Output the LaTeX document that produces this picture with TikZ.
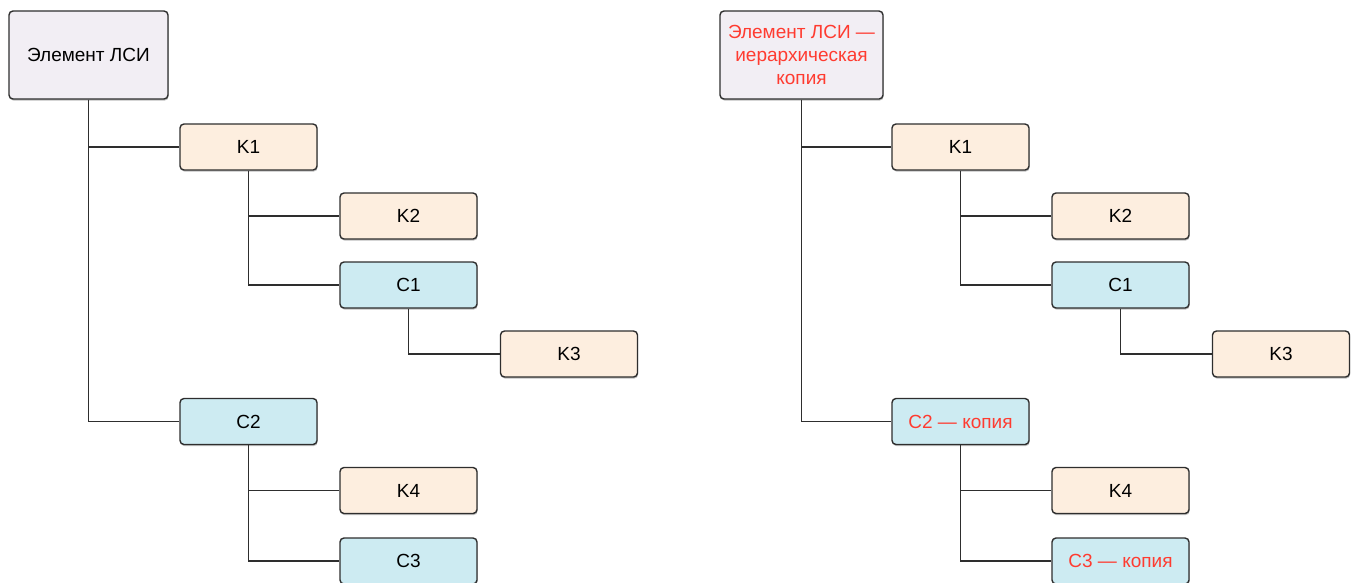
\documentclass[tikz,border=0pt]{standalone}
\usepackage{fontspec}
\setmainfont{Liberation Sans}
\usetikzlibrary{shadows}
\definecolor{rootfill}{HTML}{F2EEF4}
\definecolor{kfill}{HTML}{FDEEDF}
\definecolor{cfill}{HTML}{CDEBF2}
\definecolor{edge}{HTML}{2E2E2E}
\definecolor{redtext}{HTML}{FF3B30}
\tikzset{
  box/.style={draw=edge, line width=1.4pt, rounded corners=4pt, align=center,
    font=\fontsize{19}{23}\selectfont, text=black, inner sep=2pt,
    drop shadow={shadow xshift=0.6pt, shadow yshift=-1.6pt, opacity=0.25, fill=black}},
  rootbox/.style={box, fill=rootfill, minimum height=88pt},
  kbox/.style={box, fill=kfill, minimum width=137pt, minimum height=46pt},
  cbox/.style={box, fill=cfill, minimum width=137pt, minimum height=46pt},
  link/.style={draw=edge, line width=1.4pt},
  copytext/.style={text=redtext}
}
\begin{document}
\begin{tikzpicture}[x=1pt, y=-1pt]
\useasboundingbox (0,0) rectangle (1359,582);
% Left tree
\node[rootbox, minimum width=159pt] (Lroot) at (88.5,55) {Элемент ЛСИ};
\node[kbox] (LK1) at (248.5,147) {K1};
\node[kbox] (LK2) at (408.5,216) {K2};
\node[cbox] (LC1) at (408.5,285) {C1};
\node[kbox] (LK3) at (569,354) {K3};
\node[cbox] (LC2) at (248.5,421.5) {C2};
\node[kbox] (LK4) at (408.5,490.5) {K4};
\node[cbox] (LC3) at (408.5,561) {C3};
\draw[link] (Lroot.south) |- (LK1.west);
\draw[link] (Lroot.south) |- (LC2.west);
\draw[link] (LK1.south) |- (LK2.west);
\draw[link] (LK1.south) |- (LC1.west);
\draw[link] (LC1.south) |- (LK3.west);
\draw[link] (LC2.south) |- (LK4.west);
\draw[link] (LC2.south) |- (LC3.west);
% Right tree
\node[rootbox, minimum width=163pt, copytext] (Rroot) at (801.5,55) {Элемент ЛСИ —\\иерархическая\\копия};
\node[kbox] (RK1) at (960.5,147) {K1};
\node[kbox] (RK2) at (1120.5,216) {K2};
\node[cbox] (RC1) at (1120.5,285) {C1};
\node[kbox] (RK3) at (1281,354) {K3};
\node[cbox, copytext] (RC2) at (960.5,421.5) {C2 — копия};
\node[kbox] (RK4) at (1120.5,490.5) {K4};
\node[cbox, copytext] (RC3) at (1120.5,561) {C3 — копия};
\draw[link] (Rroot.south) |- (RK1.west);
\draw[link] (Rroot.south) |- (RC2.west);
\draw[link] (RK1.south) |- (RK2.west);
\draw[link] (RK1.south) |- (RC1.west);
\draw[link] (RC1.south) |- (RK3.west);
\draw[link] (RC2.south) |- (RK4.west);
\draw[link] (RC2.south) |- (RC3.west);
\end{tikzpicture}
\end{document}
